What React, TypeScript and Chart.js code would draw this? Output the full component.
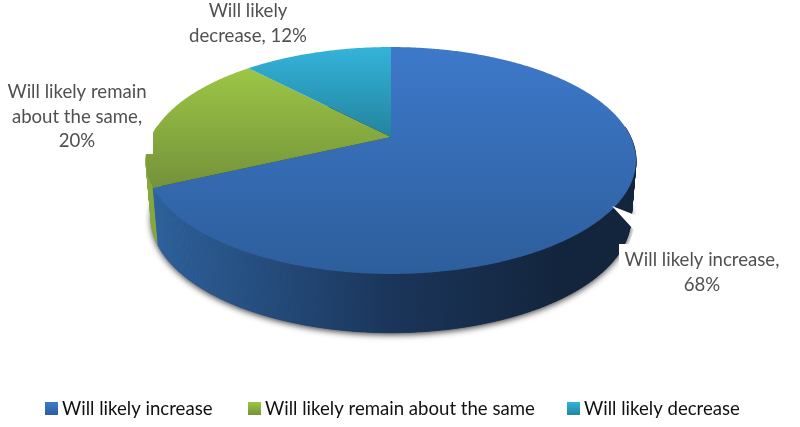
import { useEffect, useRef } from 'react';
import { Chart, registerables } from 'chart.js';

Chart.register(...registerables);

const categories = ['Will likely increase', 'Will likely remain about the same', 'Will likely decrease'];
const shares = [68, 20, 12];

const sliceLabels = [
  ['Will likely increase,', '68%'],
  ['Will likely remain', 'about the same,', '20%'],
  ['Will likely', 'decrease, 12%'],
];

const faceColors = [
  ['#3d79ca', '#2d5e9c'],
  ['#9dc645', '#74923a'],
  ['#34b3da', '#23849e'],
];
const wallColors = [
  ['#2f639f', '#1b365b', '#13253d'],
  ['#86a83c', '#7a9a32', '#6d8a2c'],
  ['#2a96b4', '#22829c', '#1c6c82'],
];

// the pie is seen in perspective, so the slice apex sits above the ellipse centre
const topFace = { cx: 391, cy: 137, a: 239.7, b: 108.6 };
const bottomFace = { cx: 391, cy: 194, a: 234.7, b: 110 };
const tilt = -0.207;

const project = (f: typeof topFace, angle: number) => {
  const u = Math.cos(angle);
  const v = Math.sin(angle);
  const w = 1 + tilt * v;
  return { x: f.cx + (f.a * u) / w, y: f.cy + (f.b * v) / w };
};

const STEP = Math.PI / 360;

const sweep = (start: number, end: number) => {
  const list: number[] = [];
  for (let t = start; t < end; t += STEP) list.push(t);
  list.push(end);
  return list;
};

const pie3d = {
  id: 'pie3d',
  beforeDatasetsDraw(chart: Chart) {
    const ctx = chart.ctx;
    const arcs = chart.getDatasetMeta(0).data as any[];

    // soft shadow under the base
    ctx.save();
    ctx.shadowColor = 'rgba(0,0,0,0.75)';
    ctx.shadowBlur = 6;
    ctx.shadowOffsetY = 2;
    ctx.fillStyle = '#14263f';
    ctx.beginPath();
    sweep(0, Math.PI * 2).forEach((t, i) => {
      const p = project(bottomFace, t);
      if (i === 0) ctx.moveTo(p.x, p.y);
      else ctx.lineTo(p.x, p.y);
    });
    ctx.closePath();
    ctx.fill();
    ctx.restore();

    // walls, back to front; the far half is hidden behind the top face
    [2, 1, 0].forEach((i) => {
      const g = ctx.createLinearGradient(150, 0, 560, 0);
      g.addColorStop(0, wallColors[i][0]);
      g.addColorStop(0.58, wallColors[i][1]);
      g.addColorStop(1, wallColors[i][2]);
      ctx.fillStyle = g;
      ctx.strokeStyle = g;
      ctx.lineWidth = 0.6;
      const list = sweep(arcs[i].startAngle, arcs[i].endAngle);
      for (let n = 0; n < list.length - 1; n++) {
        if (Math.sin(list[n]) < -0.1) continue;
        const a = project(topFace, list[n]);
        const b = project(topFace, list[n + 1]);
        const c = project(bottomFace, list[n + 1]);
        const d = project(bottomFace, list[n]);
        ctx.beginPath();
        ctx.moveTo(a.x, a.y);
        ctx.lineTo(b.x, b.y);
        ctx.lineTo(c.x, c.y);
        ctx.lineTo(d.x, d.y);
        ctx.closePath();
        ctx.fill();
        ctx.stroke();
      }
    });

    // top faces, the gradient runs over each slice's own height
    arcs.forEach((arc, i) => {
      const pts = sweep(arc.startAngle, arc.endAngle).map((t) => project(topFace, t));
      pts.push({ x: topFace.cx, y: topFace.cy });
      const ys = pts.map((p) => p.y);
      const g = ctx.createLinearGradient(0, Math.min(...ys), 0, Math.max(...ys));
      g.addColorStop(0, faceColors[i][0]);
      g.addColorStop(1, faceColors[i][1]);
      ctx.fillStyle = g;
      ctx.beginPath();
      pts.forEach((p, n) => {
        if (n === 0) ctx.moveTo(p.x, p.y);
        else ctx.lineTo(p.x, p.y);
      });
      ctx.closePath();
      ctx.fill();
    });
    return false;
  },
  afterDraw(chart: Chart) {
    const ctx = chart.ctx;
    ctx.save();

    // white label boxes and the callout wedge bite into the pie
    ctx.fillStyle = '#fff';
    ctx.fillRect(0, 85, 153, 69);
    ctx.beginPath();
    ctx.moveTo(612, 206);
    ctx.lineTo(640, 217);
    ctx.lineTo(800, 217);
    ctx.lineTo(800, 300);
    ctx.lineTo(619, 300);
    ctx.lineTo(619, 244);
    ctx.lineTo(629, 244);
    ctx.lineTo(634, 230);
    ctx.closePath();
    ctx.fill();

    ctx.font = '18.6px Lato';
    ctx.textAlign = 'center';
    ctx.textBaseline = 'middle';
    ctx.fillStyle = '#505050';
    const spots = [
      { x: 702, y: 260 },
      { x: 77, y: 92 },
      { x: 248, y: 11 },
    ];
    sliceLabels.forEach((lines, i) => {
      lines.forEach((line, n) => {
        ctx.fillText(line, spots[i].x, spots[i].y + n * 24.5);
      });
    });

    // legend
    const swatchX = [45, 248, 567];
    const textX = [62, 265, 584];
    ctx.textAlign = 'left';
    categories.forEach((name, i) => {
      const g = ctx.createLinearGradient(0, 402, 0, 415);
      g.addColorStop(0, faceColors[i][0]);
      g.addColorStop(1, faceColors[i][1]);
      ctx.fillStyle = g;
      ctx.fillRect(swatchX[i], 402, 13, 13);
      ctx.fillStyle = '#111';
      ctx.fillText(name, textX[i], 408.5);
    });
    ctx.restore();
  },
};

export default function App() {
  const canvasRef = useRef<HTMLCanvasElement>(null);

  useEffect(() => {
    if (!canvasRef.current) return;
    const chart = new Chart(canvasRef.current, {
      type: 'pie',
      data: {
        labels: categories,
        datasets: [{ data: shares, backgroundColor: faceColors.map((c) => c[0]) }],
      },
      options: {
        responsive: false,
        animation: false,
        events: [],
        plugins: {
          legend: { display: false },
          tooltip: { enabled: false },
        },
      },
      plugins: [pie3d],
    });
    return () => chart.destroy();
  }, []);

  return (
    <div style={{ position: 'absolute', left: 0, top: 0, width: 800, height: 427, background: '#fff' }}>
      <canvas ref={canvasRef} width={800} height={427} style={{ display: 'block', filter: 'blur(0.4px)' }} />
    </div>
  );
}
